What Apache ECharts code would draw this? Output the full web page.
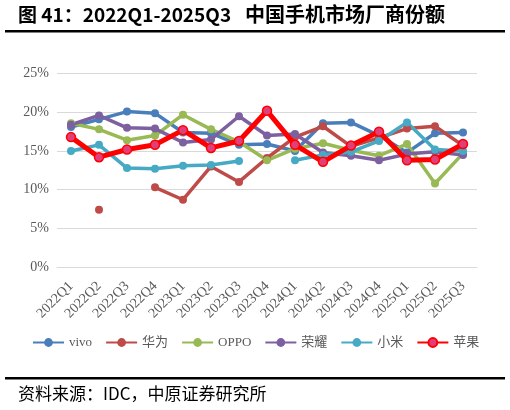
<!DOCTYPE html>
<html>
<head>
<meta charset="utf-8">
<script src="https://cdn.jsdelivr.net/npm/echarts@6/dist/echarts.min.js"></script>
<style>
html,body{margin:0;padding:0;background:#fff;}
#c{width:510px;height:410px;}
</style>
</head>
<body>
<div id="c"></div>
<script>
var categories = ['2022Q1','2022Q2','2022Q3','2022Q4','2023Q1','2023Q2','2023Q3','2023Q4','2024Q1','2024Q2','2024Q3','2024Q4','2025Q1','2025Q2','2025Q3'];
var vivo   = [18.1, 19.1, 20.1, 19.9, 17.4, 17.3, 15.8, 15.9, 15.0, 18.6, 18.7, 17.0, 14.8, 17.3, 17.4];
var huawei = [null, 7.4, null, 10.3, 8.7, 13.0, 11.0, 14.1, 16.8, 18.2, 15.6, 16.7, 17.9, 18.2, 15.7];
var oppo   = [18.6, 17.8, 16.4, 17.0, 19.7, 17.8, 16.2, 13.8, 15.3, 16.0, 15.1, 14.4, 15.9, 10.8, 14.7];
var honor  = [18.4, 19.6, 18.0, 17.9, 16.1, 16.5, 19.5, 17.0, 17.2, 14.8, 14.4, 13.8, 14.6, 14.9, 14.5];
var xiaomi = [15.0, 15.8, 12.8, 12.7, 13.1, 13.2, 13.7, null, 13.8, 14.5, 14.9, 16.3, 18.7, 15.2, 15.0];
var apple  = [16.8, 14.2, 15.2, 15.8, 17.7, 15.4, 16.3, 20.2, 15.8, 13.6, 15.7, 17.5, 13.8, 13.9, 15.9];
var yTicks = [0, 5, 10, 15, 20, 25];
var seriesNames = ['vivo','华为','OPPO','荣耀','小米','苹果'];

var chart = echarts.init(document.getElementById('c'));
function mk(name, data, color, opt) {
  opt = opt || {};
  return {
    name: name, type: 'line', data: data,
    connectNulls: false,
    symbol: 'circle', symbolSize: opt.size || 8, showSymbol: true,
    lineStyle: {color: color, width: opt.width || 3.5},
    itemStyle: {color: opt.fill || color, borderColor: color, borderWidth: opt.bw || 0},
    z: opt.z || 2,
    emphasis: {disabled: true},
    animation: false
  };
}
var serif = '"Liberation Serif", "Noto Sans CJK SC", serif';
chart.setOption({
  animation: false,
  grid: {left: 57, right: 33, top: 73.7, bottom: 143, containLabel: false},
  graphic: [
    {type:'text', left: 18, top: 5, style:{text:'图 41：2022Q1-2025Q3', font:'bold 19px "Noto Sans CJK SC", "Noto Sans", sans-serif', fill:'#000'}},
    {type:'text', left: 245, top: 4, style:{text:'中国手机市场厂商份额', font:'bold 20px "Noto Sans CJK SC", sans-serif', fill:'#000'}},
    {type:'rect', shape:{x:5, y:30, width:500, height:2.5}, style:{fill:'#000'}},
    {type:'rect', shape:{x:5, y:377, width:500, height:2.5}, style:{fill:'#000'}},
    {type:'text', left: 18, top: 385, style:{text:'资料来源：IDC，中原证券研究所', font:'17px "Noto Sans CJK SC", sans-serif', fill:'#000'}}
  ],
  legend: {
    data: seriesNames,
    top: 331, left: 27, width: 480,
    itemWidth: 31, itemHeight: 11, itemGap: 13,
    textStyle: {fontFamily: serif, fontSize: 13, color: '#595959'}
  },
  xAxis: {
    type: 'category', data: categories, boundaryGap: true,
    axisLine: {show: true, lineStyle: {color: '#d9d9d9'}},
    axisTick: {show: false},
    axisLabel: {rotate: 45, interval: 0, fontFamily: serif, fontSize: 14, color: '#595959', margin: 17}
  },
  yAxis: {
    type: 'value', min: yTicks[0], max: yTicks[yTicks.length-1], interval: 5,
    axisLine: {show: false}, axisTick: {show: false},
    axisLabel: {formatter: '{value}%', fontFamily: serif, fontSize: 14, color: '#595959', margin: 8},
    splitLine: {lineStyle: {color: '#d9d9d9', width: 1}}
  },
  series: [
    mk('vivo', vivo, '#4a7ebb'),
    mk('华为', huawei, '#be4b48'),
    mk('OPPO', oppo, '#98b954'),
    mk('荣耀', honor, '#7d60a0'),
    mk('小米', xiaomi, '#46aac5'),
    mk('苹果', apple, '#ff0000', {width: 5, size: 9, fill: '#e0407a', bw: 1.5, z: 5})
  ]
});
</script>
</body>
</html>
